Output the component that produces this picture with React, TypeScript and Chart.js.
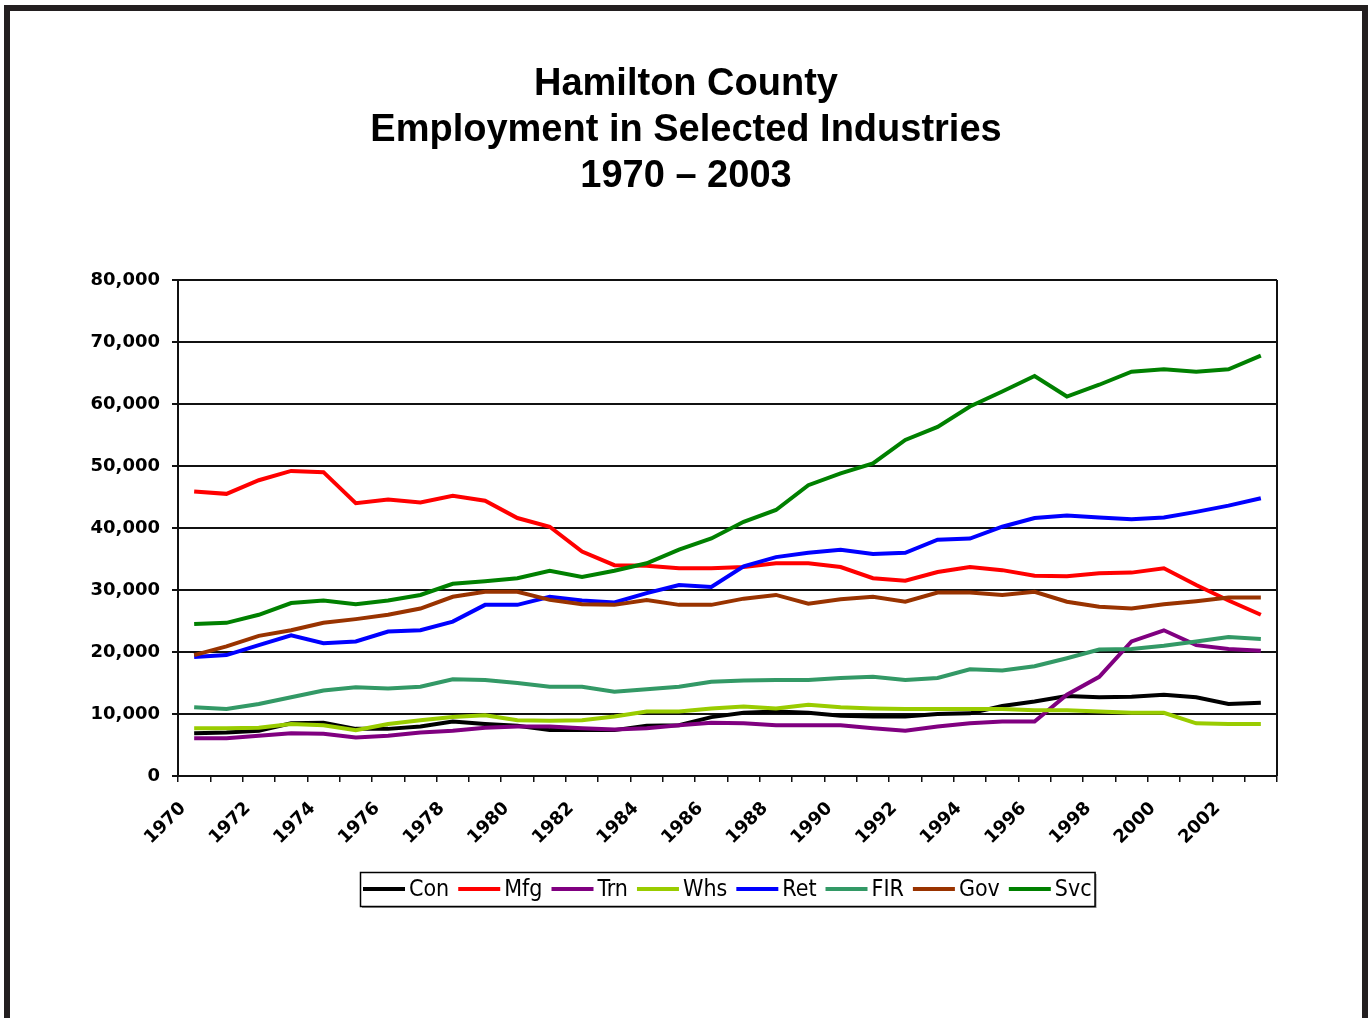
import React, { useEffect, useRef } from "react";
import { Chart, registerables } from "chart.js";

Chart.register(...registerables);

const years = [
  "1970", "1971", "1972", "1973", "1974", "1975", "1976", "1977", "1978", "1979",
  "1980", "1981", "1982", "1983", "1984", "1985", "1986", "1987", "1988", "1989",
  "1990", "1991", "1992", "1993", "1994", "1995", "1996", "1997", "1998", "1999",
  "2000", "2001", "2002", "2003",
];

const con = [6900, 7000, 7300, 8500, 8600, 7600, 7600, 8000, 8800, 8400,
  8100, 7400, 7400, 7400, 8100, 8200, 9500, 10200, 10400, 10200,
  9700, 9600, 9600, 10000, 10100, 11300, 12000, 12900, 12700, 12800,
  13100, 12700, 11600, 11800];
const mfg = [45900, 45500, 47700, 49200, 49000, 44000, 44600, 44100, 45200, 44400,
  41600, 40200, 36200, 34000, 33900, 33500, 33500, 33700, 34300, 34300,
  33700, 31900, 31500, 32900, 33700, 33200, 32300, 32200, 32700, 32800,
  33500, 30800, 28300, 26000];
const trn = [6100, 6100, 6500, 6900, 6800, 6200, 6500, 7000, 7300, 7800,
  8000, 8000, 7700, 7500, 7700, 8200, 8600, 8500, 8200, 8200,
  8200, 7700, 7300, 8000, 8500, 8800, 8800, 13100, 16000, 21700,
  23500, 21100, 20500, 20200];
const whs = [7700, 7700, 7800, 8400, 8200, 7400, 8400, 9000, 9500, 9800,
  9000, 8900, 9000, 9600, 10400, 10400, 10900, 11200, 10900, 11500,
  11100, 10900, 10800, 10800, 10800, 10800, 10600, 10600, 10400, 10200,
  10200, 8500, 8400, 8400];
const ret = [19200, 19500, 21100, 22700, 21400, 21700, 23300, 23500, 24900, 27600,
  27600, 28900, 28300, 28000, 29500, 30800, 30500, 33800, 35300, 36000,
  36500, 35800, 36000, 38100, 38300, 40200, 41600, 42000, 41700, 41400,
  41700, 42600, 43600, 44800];
const fir = [11100, 10800, 11600, 12700, 13800, 14300, 14100, 14400, 15600, 15500,
  15000, 14400, 14400, 13600, 14000, 14400, 15200, 15400, 15500, 15500,
  15800, 16000, 15500, 15800, 17200, 17000, 17700, 19000, 20400, 20500,
  21000, 21700, 22400, 22100];
const gov = [19500, 20900, 22600, 23500, 24700, 25300, 26000, 27000, 28900, 29700,
  29700, 28400, 27700, 27600, 28400, 27600, 27600, 28600, 29200, 27800,
  28500, 28900, 28100, 29600, 29600, 29200, 29700, 28100, 27300, 27000,
  27700, 28200, 28800, 28800];
const svc = [24500, 24700, 26000, 27900, 28300, 27700, 28300, 29200, 31000, 31400,
  31900, 33100, 32100, 33100, 34300, 36500, 38300, 41000, 42900, 46900,
  48800, 50400, 54200, 56300, 59600, 62000, 64500, 61200, 63100, 65200,
  65600, 65200, 65600, 67800];

const seriesNames = ["Con", "Mfg", "Trn", "Whs", "Ret", "FIR", "Gov", "Svc"];
const seriesValues = [con, mfg, trn, whs, ret, fir, gov, svc];
const seriesColors = ["#000000", "#FF0000", "#800080", "#99CC00", "#0000FF", "#339966", "#993300", "#008000"];

const titleLines = ["Hamilton County", "Employment in Selected Industries", "1970 \u2013 2003"];

const yMin = 0;
const yMax = 80000;
const yStep = 10000;

const TICK_FONT = { family: '"DejaVu Sans", Verdana, sans-serif', size: 18, weight: "bold" as const };
const LEGEND_FONT = '23px "Liberation Sans Narrow", "DejaVu Sans Condensed", "Liberation Sans", sans-serif';

const boxLegend = {
  id: "boxLegend",
  afterDraw(chart: any) {
    const ctx = chart.ctx;
    const ca = chart.chartArea;
    const ds = chart.data.datasets;
    ctx.save();
    ctx.font = LEGEND_FONT;
    const lineLen = 42;
    const gapText = 4;
    const gapItem = 9;
    const padX = 3;
    const widths = ds.map((d: any) => ctx.measureText(d.label).width);
    let total = padX * 2 + gapItem * (ds.length - 1);
    widths.forEach((w: number) => (total += lineLen + gapText + w));
    const cx = (ca.left + ca.right) / 2;
    const left = Math.round(cx - total / 2);
    const top = ca.bottom + 96;
    const h = 34;
    ctx.fillStyle = "#9a9a9a";
    ctx.fillRect(left + 2, top + 2, total, h);
    ctx.fillStyle = "#ffffff";
    ctx.fillRect(left, top, total, h);
    ctx.strokeStyle = "#000000";
    ctx.lineWidth = 1.5;
    ctx.strokeRect(left + 0.5, top + 0.5, total, h);
    const cy = top + h / 2;
    let x = left + padX;
    ds.forEach((d: any, i: number) => {
      ctx.strokeStyle = d.borderColor;
      ctx.lineWidth = 4;
      ctx.beginPath();
      ctx.moveTo(x, cy);
      ctx.lineTo(x + lineLen, cy);
      ctx.stroke();
      x += lineLen + gapText;
      ctx.fillStyle = "#000000";
      ctx.textBaseline = "middle";
      ctx.textAlign = "left";
      ctx.fillText(d.label, x, cy + 1);
      x += widths[i] + gapItem;
    });
    ctx.restore();
  },
};

const rightBorder = {
  id: "rightBorder",
  afterDatasetsDraw(chart: any) {
    const ctx = chart.ctx;
    const ca = chart.chartArea;
    ctx.save();
    ctx.strokeStyle = "#111111";
    ctx.lineWidth = 2;
    ctx.beginPath();
    ctx.moveTo(ca.right, ca.top);
    ctx.lineTo(ca.right, ca.bottom);
    ctx.stroke();
    ctx.restore();
  },
};

export default function App() {
  const ref = useRef<HTMLCanvasElement | null>(null);

  useEffect(() => {
    if (!ref.current) return;
    const chart = new Chart(ref.current, {
      type: "line",
      data: {
        labels: years,
        datasets: seriesNames.map((name, i) => ({
          label: name,
          data: seriesValues[i],
          borderColor: seriesColors[i],
          backgroundColor: seriesColors[i],
          borderWidth: 4,
          pointRadius: 0,
          tension: 0,
          fill: false,
          yAxisID: "y",
          order: seriesNames.length - i,
        })),
      },
      options: {
        animation: false,
        responsive: false,
        maintainAspectRatio: false,
        layout: { padding: { left: 0, right: 0, top: 0, bottom: 140 } },
        plugins: {
          legend: { display: false },
          tooltip: { enabled: false },
          title: {
            display: true,
            text: titleLines,
            color: "#000000",
            font: { family: '"Liberation Sans", Arial, sans-serif', size: 38, weight: "bold", lineHeight: 1.21 },
            padding: { top: 62, bottom: 80 },
          },
        },
        scales: {
          x: {
            type: "category",
            offset: true,
            grid: {
              display: true,
              drawOnChartArea: false,
              drawTicks: true,
              tickLength: 6,
              offset: true,
              color: "#111111",
              lineWidth: 1.5,
            },
            border: { display: true, color: "#111111", width: 2 },
            ticks: {
              autoSkip: false,
              minRotation: 45,
              maxRotation: 45,
              padding: 16,
              labelOffset: -11,
              color: "#000000",
              font: TICK_FONT,
              callback: (_v: any, idx: number) => (idx % 2 === 0 ? years[idx] : ""),
            },
            afterFit: (scale: any) => {
              scale.height = 102;
            },
          },
          y: {
            position: "left",
            min: yMin,
            max: yMax,
            ticks: {
              stepSize: yStep,
              padding: 12,
              color: "#000000",
              font: TICK_FONT,
              callback: (v: any) => Number(v).toLocaleString("en-US"),
            },
            grid: {
              color: "#111111",
              lineWidth: 2,
              tickLength: 6,
              drawTicks: true,
            },
            border: { display: true, color: "#111111", width: 2 },
            afterFit: (scale: any) => {
              scale.width = 178;
            },
          },
          spacer: {
            type: "linear",
            position: "right",
            display: true,
            grid: { display: false, drawTicks: false },
            border: { display: false },
            ticks: { display: false },
            afterFit: (scale: any) => {
              scale.width = 95;
            },
          },
        },
      },
      plugins: [rightBorder, boxLegend],
    });
    return () => chart.destroy();
  }, []);

  return (
    <>
      <canvas
        ref={ref}
        width={1372}
        height={1018}
        style={{ position: "fixed", left: 0, top: 0, width: 1372, height: 1018, background: "#ffffff" }}
      />
      <div
        style={{
          position: "fixed",
          left: 4,
          top: 5,
          width: 1352,
          height: 1100,
          border: "6px solid #231f20",
          pointerEvents: "none",
        }}
      />
    </>
  );
}
